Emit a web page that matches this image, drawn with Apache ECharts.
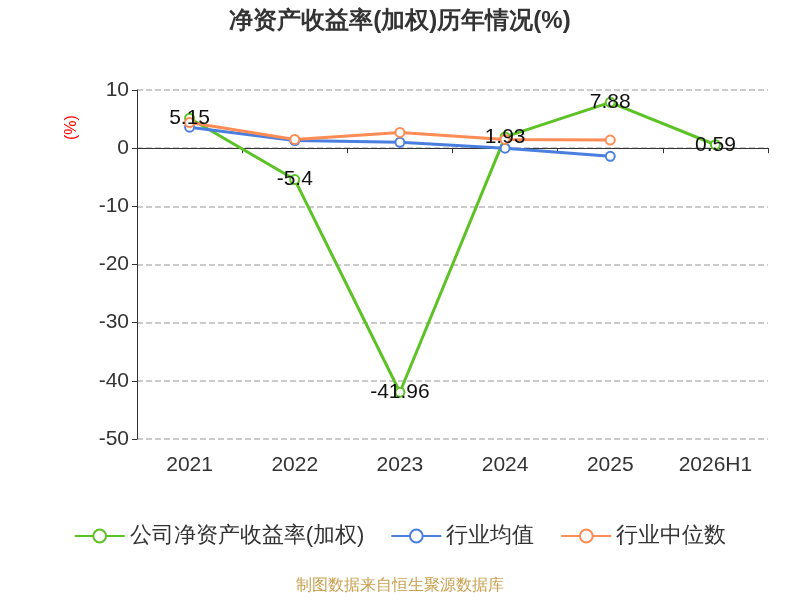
<!DOCTYPE html>
<html><head><meta charset="utf-8">
<script src="https://cdn.jsdelivr.net/npm/echarts@6/dist/echarts.min.js"></script>
<style>html,body{margin:0;padding:0}#c{width:800px;height:600px}</style>
</head><body><div id="c"></div>
<script>
const categories=['2021','2022','2023','2024','2025','2026H1'];
const company=[5.15,-5.4,-41.96,1.93,7.88,0.59];
const industryAvg=[3.6,1.3,1.0,0.0,-1.4];
const industryMedian=[4.4,1.5,2.7,1.5,1.4];
const c=echarts.init(document.getElementById('c'));
c.setOption({
 title:{text:'净资产收益率(加权)历年情况(%)',left:'center',top:4,textStyle:{fontSize:24,fontWeight:'bold',color:'#333'}},
 grid:{left:137,right:32,top:90,bottom:161},
 legend:{bottom:48,itemWidth:50,itemHeight:16,itemGap:26,textStyle:{fontSize:22,color:'#333'},
  data:['公司净资产收益率(加权)','行业均值','行业中位数']},
 graphic:[
  {type:'text',left:'center',top:578,style:{text:'制图数据来自恒生聚源数据库',fill:'#c8a050',fontSize:16}},
  {type:'text',x:64,y:140,rotation:Math.PI/2,style:{text:'(%)',fill:'red',fontSize:16}}
 ],
 xAxis:{type:'category',data:categories,boundaryGap:true,
  axisLine:{onZero:true,lineStyle:{color:'#333'}},axisTick:{show:true,lineStyle:{color:'#333'}},
  axisLabel:{fontSize:21,color:'#333',margin:16}},
 yAxis:{type:'value',min:-50,max:10,interval:10,
  axisLine:{show:true,lineStyle:{color:'#333'}},axisTick:{show:true},
  axisLabel:{fontSize:21,color:'#333'},
  splitLine:{lineStyle:{type:'dashed',color:'#bbb',width:1.5}}},
 series:[
  {name:'公司净资产收益率(加权)',type:'line',data:company,symbol:'emptyCircle',symbolSize:9,
   lineStyle:{width:3,color:'#5cc225'},itemStyle:{color:'#5cc225'},
   label:{show:true,position:'inside',fontSize:21,color:'#111'},z:3},
  {name:'行业均值',type:'line',data:industryAvg,symbol:'emptyCircle',symbolSize:9,
   lineStyle:{width:3,color:'#4a7fe0'},itemStyle:{color:'#4a7fe0'}},
  {name:'行业中位数',type:'line',data:industryMedian,symbol:'emptyCircle',symbolSize:9,
   lineStyle:{width:3,color:'#ff8c55'},itemStyle:{color:'#ff8c55'}}
 ]
});
</script></body></html>
